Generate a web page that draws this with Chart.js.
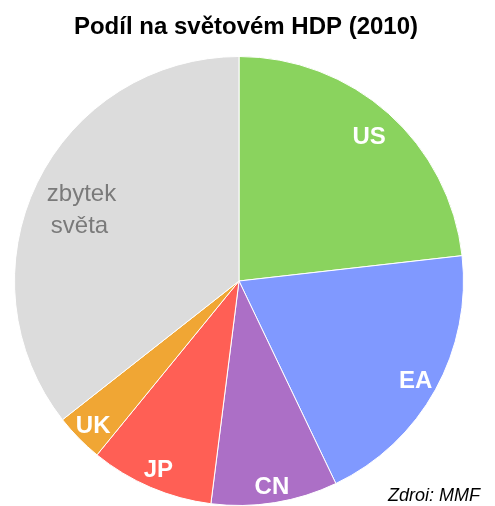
<!DOCTYPE html>
<html>
<head>
<meta charset="utf-8">
<script src="https://cdn.jsdelivr.net/npm/chart.js@4"></script>
<style>
  html, body { margin: 0; padding: 0; background: #fff; }
  #wrap { width: 495px; height: 506px; position: relative; }
</style>
</head>
<body>
<div id="wrap"><canvas id="chart"></canvas></div>
<script>
// podíl na světovém HDP 2010, v %
const labels = ['US', 'EA', 'CN', 'JP', 'UK', 'zbytek světa'];
const shares = [23.2, 19.7, 9.1, 8.9, 3.5, 35.6];
const colors = ['#8ad35e', '#8099ff', '#ac6fc6', '#ff5f55', '#f0a634', '#dcdcdc'];
const titleText = 'Podíl na světovém HDP (2010)';
const sourceText = 'Zdroi: MMF';

// where each label sits, as a fraction of the radius
const labelRadius = [0.87, 0.9, 0.92, 0.91, 0.91, 0.78];

const sliceLabels = {
  id: 'sliceLabels',
  afterDatasetsDraw(chart) {
    const ctx = chart.ctx;
    const meta = chart.getDatasetMeta(0);
    ctx.save();
    ctx.textAlign = 'center';
    ctx.textBaseline = 'middle';
    meta.data.forEach((arc, i) => {
      const mid = (arc.startAngle + arc.endAngle) / 2;
      const r = arc.outerRadius * labelRadius[i];
      const x = arc.x + Math.cos(mid) * r;
      const y = arc.y + Math.sin(mid) * r;
      if (i === labels.length - 1) {
        ctx.fillStyle = '#7a7a7a';
        ctx.font = '24px "Liberation Sans", Arial, sans-serif';
        const parts = labels[i].split(' ');
        ctx.fillText(parts[0], x, y - 10);
        ctx.fillText(parts[1], x - 2, y + 22);
      } else {
        ctx.fillStyle = '#fff';
        ctx.font = 'bold 24px "Liberation Sans", Arial, sans-serif';
        ctx.fillText(labels[i], x, y + 2);
      }
    });
    ctx.textBaseline = 'alphabetic';
    // title, centred on the page rather than on the pie
    ctx.fillStyle = '#000';
    ctx.font = 'bold 24px "Liberation Sans", Arial, sans-serif';
    ctx.fillText(titleText, 246, 34);
    // source note
    ctx.textAlign = 'right';
    ctx.font = 'italic 18px "Liberation Sans", Arial, sans-serif';
    ctx.fillText(sourceText, 480, 501);
    ctx.restore();
  }
};

new Chart(document.getElementById('chart'), {
  type: 'pie',
  data: {
    labels: labels,
    datasets: [{
      data: shares,
      backgroundColor: colors,
      borderColor: '#fff',
      borderWidth: 1,
      hoverOffset: 0
    }]
  },
  options: {
    responsive: true,
    maintainAspectRatio: false,
    animation: false,
    layout: { padding: { left: 14, right: 31, top: 56, bottom: 0 } },
    plugins: {
      legend: { display: false },
      tooltip: { enabled: false },
      title: { display: false }
    }
  },
  plugins: [sliceLabels]
});
</script>
</body>
</html>
